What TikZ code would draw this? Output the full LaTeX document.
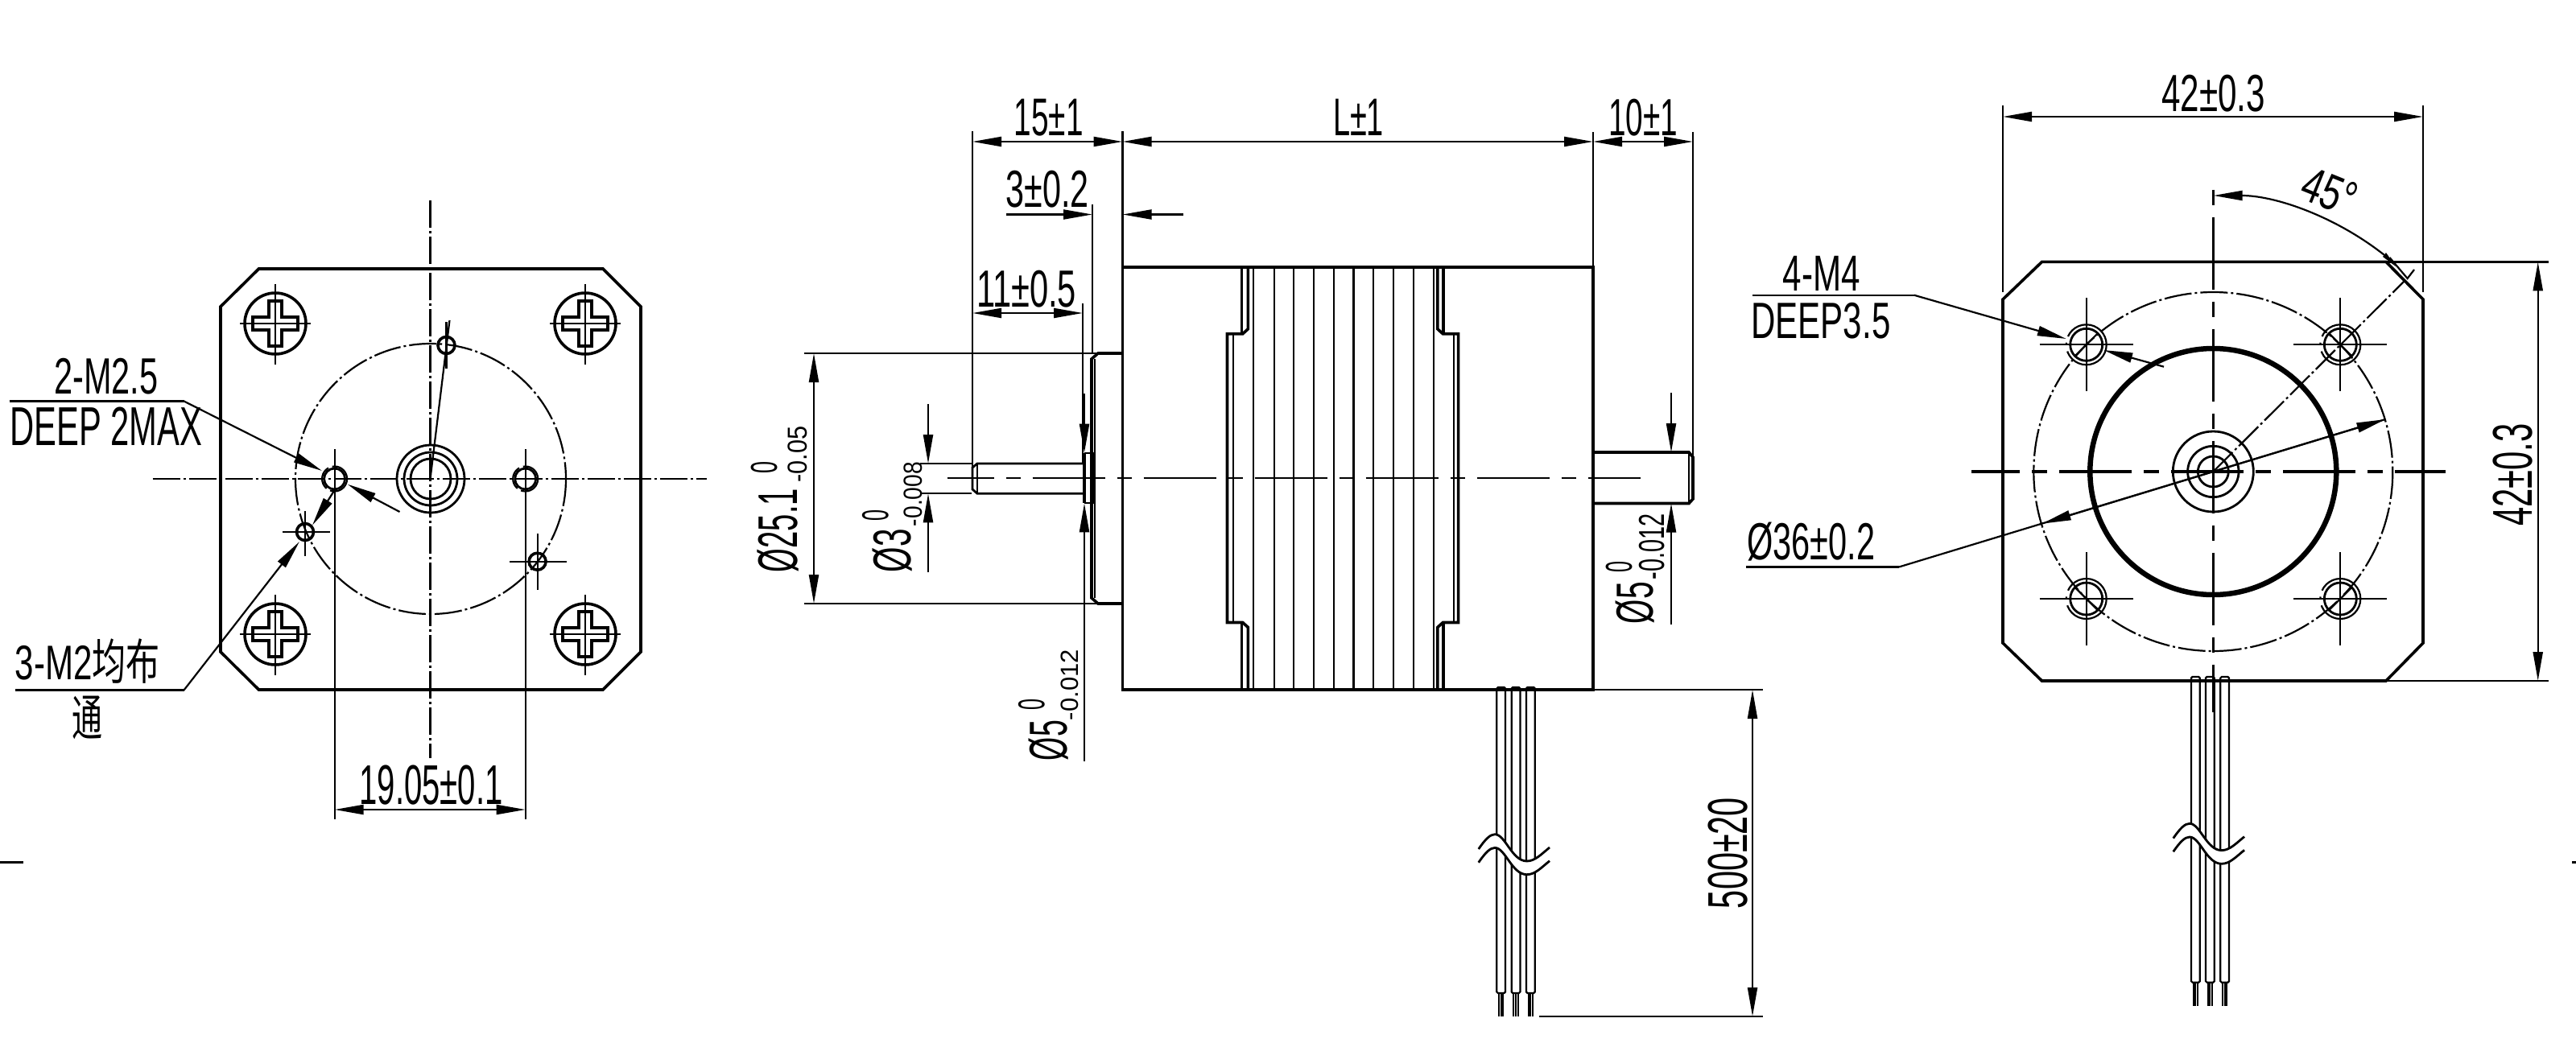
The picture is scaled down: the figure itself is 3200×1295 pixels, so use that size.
\documentclass[tikz,border=0pt]{standalone}
\usepackage{fontspec}
\usepackage{graphicx}
\setmainfont{Liberation Sans}
\newfontfamily\cjk{Noto Sans CJK SC}
\usetikzlibrary{arrows.meta}
\newcommand\T[3]{\resizebox{#1pt}{\dimexpr#2pt*108/100\relax}{#3}}
\tikzset{
 x=1pt,y=-1pt,
 ln/.style={line width=2.2pt},
 med/.style={line width=2.8pt},
 thk/.style={line width=3.6pt},
 arr/.style={ln,-{Triangle[length=36pt,width=12pt]}},
 darr/.style={ln,{Triangle[length=36pt,width=12pt]}-{Triangle[length=36pt,width=12pt]}},
 dd/.style={ln,dash pattern=on 34pt off 4pt on 3pt off 4pt},
 lc/.style={ln,dash pattern=on 90pt off 15pt on 18pt off 15pt},
 txt/.style={inner sep=0pt,outer sep=0pt},
 vtxt/.style={inner sep=0pt,outer sep=0pt,rotate=90},
}
\newcommand\screw[2]{\begin{scope}[shift={(#1,#2)}]
 \draw[thk] (0,0) circle[radius=38];
 \draw[thk] (-8,-28)--(8,-28)--(8,-8)--(28,-8)--(28,8)--(8,8)--(8,28)--(-8,28)--(-8,8)--(-28,8)--(-28,-8)--(-8,-8)--cycle;
 \draw[ln] (-44,0)--(44,0) (0,-49)--(0,51);
\end{scope}}
\newcommand\wire[3]{%x top bot
 \draw[ln,rounded corners=1.5pt] (#1,#3)--(#1,#2)--(#1+10.7,#2)--(#1+10.7,#3)--cycle;
 \draw[line width=1.8pt] (#1+2.6,#3)--(#1+2.6,#3+29) (#1+5.3,#3)--(#1+5.3,#3+29) (#1+8,#3)--(#1+8,#3+29);}
\newcommand\brk{%
 \fill[white] (1836.7,1055) .. controls (1845,1043) and (1851,1036.7) .. (1857,1036.7) .. controls (1870,1036.7) and (1878,1070) .. (1896.7,1070) .. controls (1907,1070) and (1915,1061) .. (1925,1053)--(1925,1069.7) .. controls (1915,1077.7) and (1907,1086.7) .. (1896.7,1086.7) .. controls (1878,1086.7) and (1870,1053.4) .. (1857,1053.4) .. controls (1851,1053.4) and (1845,1059.7) .. (1836.7,1071.7)--cycle;
 \foreach \d in {0,16.7}{\draw[med] (1836.7,1055+\d) .. controls (1845,1043+\d) and (1851,1036.7+\d) .. (1857,1036.7+\d) .. controls (1870,1036.7+\d) and (1878,1070+\d) .. (1896.7,1070+\d) .. controls (1907,1070+\d) and (1915,1061+\d) .. (1925,1053+\d);}}
\newcommand\bighole[3]{\begin{scope}[shift={(#1,#2)}]
 \draw[ln] (-58,0)--(58,0) (0,-58)--(0,58);
 \draw[med] (0,0) circle[radius=20];
 \draw[ln,dash pattern=on 70pt off 8pt on 3pt off 8pt] (0,0) circle[radius=25];
 \draw[ln] (-20*#3*0.707,-14.1)--(20*#3*0.707,14.1);
\end{scope}}
\begin{document}
\begin{tikzpicture}
\useasboundingbox (0,0) rectangle (3200,1295);
\fill[white] (0,0) rectangle (3200,1295);
% edge ticks
\draw[line width=3pt] (0,1071)--(29,1071) (3195,1071)--(3200,1071);
%% ================ LEFT VIEW
\draw[thk] (321.5,334)--(749,334)--(796,381)--(796,810)--(749,857)--(321.5,857)--(274,810)--(274,381)--cycle;
\screw{342}{402}\screw{727}{402}\screw{342}{788}\screw{727}{788}
\draw[dd] (535,595) circle[radius=168];
\draw[dd] (189.5,595)--(878,595);
\draw[dd] (534.5,249)--(534.5,942);
\draw[med] (535,595) circle[radius=42];
\draw[med] (535,595) circle[radius=33];
\draw[med] (535,595) circle[radius=25];
% threaded holes
\foreach \x in {415.6,652.7}{
 \draw[med] (\x,595) circle[radius=13];
 \draw[ln,dash pattern=on 30pt off 5pt] (\x,595) circle[radius=15.5];}
\draw[thk] (554.5,429) circle[radius=10.5];
\draw[thk] (379,661) circle[radius=10.5];
\draw[thk] (667.6,697.7) circle[radius=10.5];
\draw[ln] (554.5,400)--(554.5,458) (351,661)--(410,661) (379,635)--(379,691) (633,697.7)--(704,697.7) (667.6,663)--(667.6,733);
\draw[ln] (558.5,398)--(534.5,595);
% 19.05
\draw[ln] (415.6,558)--(415.6,1018) (652.7,558)--(652.7,1018);
\draw[darr] (415.6,1006)--(652.7,1006);
\node[txt] (t1905) at (535.6,976) {\T{178}{45}{19.05±0.1}};
% leaders
\draw[ln] (11.5,498.5)--(228.5,498.5);
\draw[arr] (228.5,498.5)--(400,585);
\draw[arr] (496.5,636)--(431.7,601.7);
\node[txt] (t25a) at (132,468) {\T{129}{41}{2-M2.5}};
\node[txt] (t25b) at (132,530) {\T{239}{44}{DEEP 2MAX}};
\draw[ln] (19,857.5)--(228.5,857.5);
\draw[arr] (228.5,857.5)--(372,673);
\draw[arr] (415.6,609)--(388,652.7);
\node[txt] (t3m) at (109,822) {\T{180}{47}{3-M2{\cjk 均布}}};
\node[txt] (ttong) at (108,892) {\T{38}{46}{{\cjk 通}}};
%% ================ MIDDLE VIEW
\draw[thk] (1394.5,332) rectangle (1979,857);
% fins
\draw[thk] (1550.4,332)--(1550.4,408.7)--(1543.7,414.8)--(1524.5,414.8)--(1524.5,773.5)--(1543.7,773.5)--(1550.4,779.6)--(1550.4,857);
\draw[thk] (1542.4,332)--(1542.4,414.8) (1542.4,773.5)--(1542.4,857);
\draw[thk] (1785.7,332)--(1785.7,408.7)--(1792.4,414.8)--(1811.6,414.8)--(1811.6,773.5)--(1792.4,773.5)--(1785.7,779.6)--(1785.7,857);
\draw[thk] (1793,332)--(1793,414.8) (1793,773.5)--(1793,857);
\draw[ln] (1532,415)--(1532,773) (1805.8,415)--(1805.8,773);
\foreach \x in {1557,1582.6,1781}{\draw[ln] (\x,332)--(\x,857);}
\foreach \x in {1607,1632,1657,1681.7,1706,1731,1756}{\draw[med] (\x,332)--(\x,857);}
% boss
\draw[thk] (1394.5,439)--(1364,439)--(1356,446)--(1356,743)--(1364,750)--(1394.5,750);
\draw[ln] (1360,446)--(1360,743);
% collar
\draw[ln] (1346.7,562.7)--(1360,562.7) (1346.7,625.3)--(1360,625.3);
\draw[thk] (1346.7,562.7)--(1346.7,625.3);
\draw[thk] (1357,562.7)--(1357,625.3);
% left shaft
\draw[med] (1345,576)--(1214,576)--(1208,581)--(1208,608)--(1214,613.3)--(1345,613.3);
\draw[ln] (1214,576)--(1214,613.3);
% right shaft
\draw[thk] (1979,562)--(2098,562)--(2103,568)--(2103,620)--(2098,625.5)--(1979,625.5);
\draw[ln] (2098,562)--(2098,625.5);
% centre line
\draw[lc,dash phase=32pt] (1176.7,594)--(2038,594);
% wires
\wire{1859.3}{854}{1234}\wire{1877.7}{854}{1234}\wire{1896}{854}{1234}
\brk
% extensions
\draw[ln] (1208,163)--(1208,586);
\draw[ln] (1394.5,163)--(1394.5,332);
\draw[ln] (1979,164)--(1979,332);
\draw[ln] (2103,164)--(2103,572);
\draw[ln] (1357,254)--(1357,439);
\draw[med] (1345,377)--(1345,576);
\draw[ln] (998.7,439)--(1364,439) (998.7,750)--(1364,750);
\draw[ln] (1143,576)--(1208,576) (1143,613.3)--(1207,613.3);
\draw[ln] (1912,1263)--(2190,1263) (1979,857)--(2190,857);
% dims
\draw[darr] (1208,176)--(1394.5,176);
\draw[darr] (1394.5,176)--(1979,176);
\draw[darr] (1979,176)--(2103,176);
\draw[darr] (1208,389)--(1345,389);
\draw[arr] (1250,266.5)--(1357,266.5);
\draw[arr] (1470,266.5)--(1394.5,266.5);
\draw[darr] (1011,439)--(1011,750);
\draw[arr] (1153,502)--(1153,576);
\draw[arr] (1153,711)--(1153,613.3);
\draw[arr] (1347,489)--(1347,562.7);
\draw[arr] (1347,945.6)--(1347,625.3);
\draw[arr] (2076,488)--(2076,562);
\draw[arr] (2076,776)--(2076,625.5);
\draw[darr] (2177,857)--(2177,1263);
\node[txt] (t15) at (1302.6,146) {\T{86}{42}{15±1}};
\node[txt] (tL) at (1687.5,146) {\T{63}{42}{L±1}};
\node[txt] (t10) at (2041,146) {\T{86}{42}{10±1}};
\node[txt] (t3) at (1301,235) {\T{103}{42}{3±0.2}};
\node[txt] (t11) at (1275,359) {\T{124}{42}{11±0.5}};
\node[vtxt] (a1) at (967,659) {\T{104}{46}{Ø25.1}};
\node[vtxt] (a2) at (950,581) {\T{15}{30}{0}};
\node[vtxt] (a3) at (991,564.5) {\T{70}{22}{-0.05}};
\node[vtxt] (b1) at (1109,684) {\T{54}{44}{Ø3}};
\node[vtxt] (b2) at (1087.5,640) {\T{14}{30}{0}};
\node[vtxt] (b3) at (1134,614) {\T{80}{21}{-0.008}};
\node[vtxt] (c1) at (1302.8,920) {\T{50}{44}{Ø5}};
\node[vtxt] (c2) at (1281.5,875.5) {\T{14}{30}{0}};
\node[vtxt] (c3) at (1329,851) {\T{88}{20}{-0.012}};
\node[vtxt] (d1) at (2031,749) {\T{52}{43}{Ø5}};
\node[vtxt] (d2) at (2011,704.5) {\T{14}{30}{0}};
\node[vtxt] (d3) at (2052.5,679) {\T{82}{29}{-0.012}};
\node[vtxt] (t500) at (2146.7,1060) {\T{138}{45}{500±20}};
%% ================ RIGHT VIEW
\draw[thk] (2536.5,325.4)--(2964,325.4)--(3010,372)--(3010,799)--(2964,846)--(2536.5,846)--(2488,799)--(2488,372)--cycle;
\draw[dd] (2749.3,586) circle[radius=223];
\draw[line width=6.5pt] (2749.3,586) circle[radius=153];
\draw[med] (2749.3,586) circle[radius=50];
\draw[med] (2749.3,586) circle[radius=31.7];
\draw[med] (2749.3,586) circle[radius=19];
\draw[thk,dash pattern=on 90pt off 15pt on 19pt off 15pt,dash phase=30pt] (2449.4,586)--(3037.5,586);
\draw[ln,dash pattern=on 90pt off 15pt on 19pt off 15pt,dash phase=101pt] (2749.4,231.5)--(2749.4,885);
\draw[dd] (2749.3,586)--(2987,349);
\bighole{2591.7}{428.3}{-1}
\bighole{2907.3}{428.3}{1}
\bighole{2591.7}{744}{1}
\bighole{2907.3}{744}{-1}
\draw[med] (2749.3,845)--(2749.3,885);
\wire{2722}{841}{1220.7}\wire{2740}{841}{1220.7}\wire{2758.3}{841}{1220.7}
\begin{scope}[shift={(863,-13.4)}]\brk\end{scope}
% extensions and dims
\draw[ln] (2488,131)--(2488,363) (3010,131)--(3010,363);
\draw[darr] (2488,145)--(3010,145);
\draw[ln] (2964,325.4)--(3166,325.4) (2964,846)--(3166,846);
\draw[darr] (3152.7,325.4)--(3152.7,846);
\node[txt] (t42a) at (2749.5,115.7) {\T{128.6}{42}{42±0.3}};
\node[vtxt] (t42b) at (3121,590) {\T{127.5}{45}{42±0.3}};
% 45 deg
\draw[ln,{Triangle[length=36pt,width=12pt]}-] (2749.5,243) .. controls (2826.7,243) and (2901.4,269.1) .. (2962,317);
\fill (2960,319)--(2964,314)--(2976,331)--cycle;
\draw[ln] (2968.5,320)--(2990.6,346)--(2999,335);
\node[txt,rotate=-22] (t45) at (2893.5,238) {\T{68}{40}{45°}};
% leaders
\draw[ln] (2176.8,366.7)--(2377.7,366.7);
\draw[arr] (2377.7,366.7)--(2566.7,421);
\draw[arr] (2688,455.7)--(2613.3,435);
\node[txt] (t4m) at (2262.7,339.7) {\T{96}{40}{4-M4}};
\node[txt] (tdeep) at (2261.9,399) {\T{173}{41}{DEEP3.5}};
\draw[ln] (2168.8,704.5)--(2359,704.5);
\draw[ln] (2359,704.5)--(2963.3,521);
\draw[arr] (2749.3,586)--(2963.3,521);
\draw[arr] (2749.3,586)--(2536.7,650.7);
\node[txt] (t36) at (2249.8,673) {\T{159}{43}{Ø36±0.2}};
\end{tikzpicture}
\end{document}
